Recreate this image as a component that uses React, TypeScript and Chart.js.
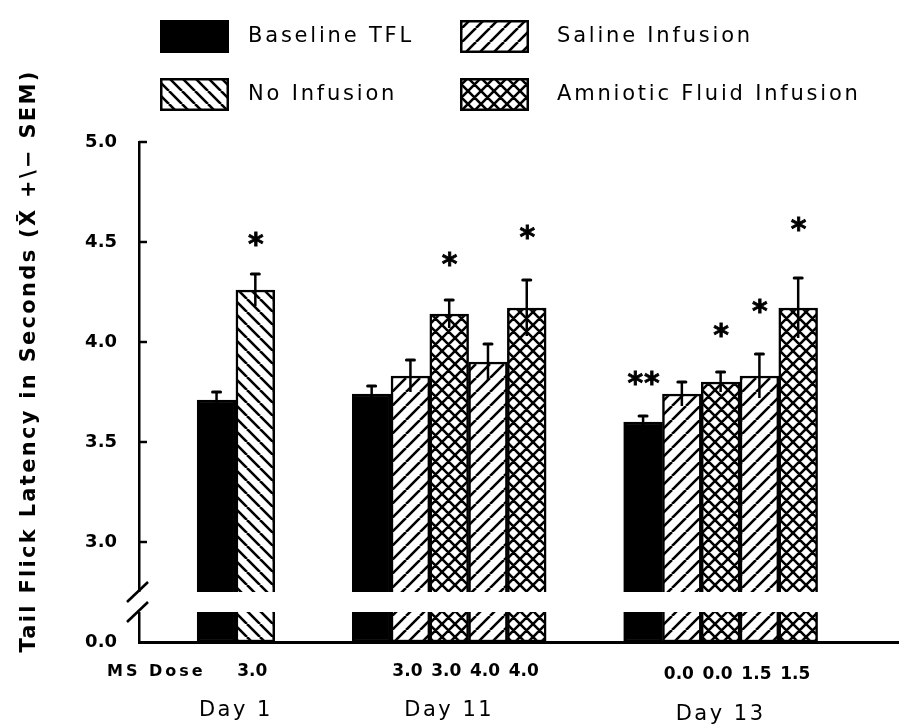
import React, { useEffect, useRef } from "react";
import { Chart, registerables, LinearScale } from "chart.js";

// ---------------- data ----------------
const SERIES_LABELS = ["Baseline TFL", "No Infusion", "Saline Infusion", "Amniotic Fluid Infusion"];

const GROUP_LABELS = ["Day 1", "Day 11", "Day 13"];
const GROUP_FIRST_SLOT = [2, 6, 13];
const GROUP_LAST_SLOT = [3, 10, 17];

const BASELINE_X = [2, 6, 13];
const BASELINE_Y = [3.71, 3.74, 3.6];
const BASELINE_SEM = [0.04, 0.04, 0.03];
const BASELINE_STAR_Y = [null, null, 3.82];
const BASELINE_STAR = ["", "", "**"];

const NOINF_X = [3];
const NOINF_Y = [4.26];
const NOINF_SEM = [0.08];
const NOINF_STAR_Y = [4.515];
const NOINF_STAR = ["*"];

const SALINE_X = [7, 9, 14, 16];
const SALINE_Y = [3.83, 3.9, 3.74, 3.83];
const SALINE_SEM = [0.08, 0.09, 0.06, 0.11];
const SALINE_STAR_Y = [null, null, null, 4.18];
const SALINE_STAR = ["", "", "", "*"];

const AF_X = [8, 10, 15, 17];
const AF_Y = [4.14, 4.17, 3.8, 4.17];
const AF_SEM = [0.07, 0.14, 0.05, 0.15];
const AF_STAR_Y = [4.415, 4.55, 4.06, 4.59];
const AF_STAR = ["*", "*", "*", "*"];

const DOSE_SLOTS = [3, 7, 8, 9, 10, 14, 15, 16, 17];
const DOSE_LABELS = ["3.0", "3.0", "3.0", "4.0", "4.0", "0.0", "0.0", "1.5", "1.5"];

const Y_TICKS = [0, 3.0, 3.5, 4.0, 4.5, 5.0];
const Y_MIN = 0;
const Y_MAX = 5;
const BREAK_LOW = 0.15;
const BREAK_HIGH = 2.75;
const X_MIN = 0;
const X_MAX = 19.6;

const Y_TITLE = "Tail Flick Latency in Seconds (X\u0304 +\\\u2212 SEM)";
const DOSE_TITLE = "MS Dose";

// ---------------- broken axis scale ----------------
const BREAK_GAP_PX = 20;

class BrokenLinearScale extends LinearScale {
  static id = "brokenLinear";
  _k() {
    const span = (this.max - BREAK_HIGH) + (BREAK_LOW - this.min);
    return (this.height - BREAK_GAP_PX) / span;
  }
  getPixelForValue(value: number) {
    if (value === null || value === undefined || isNaN(value)) return NaN;
    const k = this._k();
    const lowTop = this.bottom - (BREAK_LOW - this.min) * k;
    if (value >= BREAK_HIGH) return lowTop - BREAK_GAP_PX - (value - BREAK_HIGH) * k;
    if (value <= BREAK_LOW) return this.bottom - (value - this.min) * k;
    return lowTop - (BREAK_GAP_PX * (value - BREAK_LOW)) / (BREAK_HIGH - BREAK_LOW);
  }
  getValueForPixel(pixel: number) {
    const k = this._k();
    const lowTop = this.bottom - (BREAK_LOW - this.min) * k;
    const highBottom = lowTop - BREAK_GAP_PX;
    if (pixel <= highBottom) return BREAK_HIGH + (highBottom - pixel) / k;
    if (pixel >= lowTop) return this.min + (this.bottom - pixel) / k;
    return BREAK_LOW + ((lowTop - pixel) / BREAK_GAP_PX) * (BREAK_HIGH - BREAK_LOW);
  }
}

Chart.register(...registerables, BrokenLinearScale as any);

// ---------------- helpers ----------------
const FONT = '"DejaVu Sans", sans-serif';

function makePattern(kind: "fwd" | "back" | "cross"): CanvasPattern | string {
  const s = kind === "back" ? 13 : kind === "fwd" ? 14 : 13;
  const c = document.createElement("canvas");
  c.width = s;
  c.height = s;
  const g = c.getContext("2d");
  if (!g) return "#fff";
  g.fillStyle = "#fff";
  g.fillRect(0, 0, s, s);
  g.strokeStyle = "#000";
  g.lineWidth = 2.6;
  g.beginPath();
  for (const o of [-s, 0, s]) {
    if (kind === "fwd" || kind === "cross") {
      g.moveTo(o, s);
      g.lineTo(o + s, 0);
    }
    if (kind === "back" || kind === "cross") {
      g.moveTo(o, 0);
      g.lineTo(o + s, s);
    }
  }
  g.stroke();
  return g.createPattern(c, "repeat") as CanvasPattern;
}

function spacedText(ctx: CanvasRenderingContext2D, text: string, x: number, y: number, spacing: number, align: "left" | "center" | "right") {
  (ctx as any).letterSpacing = spacing + "px";
  const w = ctx.measureText(text).width;
  let sx = x;
  if (align === "center") sx = x - w / 2;
  else if (align === "right") sx = x - w;
  ctx.textAlign = "left";
  ctx.fillText(text, sx, y);
  (ctx as any).letterSpacing = "0px";
}

const decorPlugin = {
  id: "paperDecor",
  afterDatasetsDraw(chart: any) {
    const ctx: CanvasRenderingContext2D = chart.ctx;
    const ys = chart.scales.y;
    const area = chart.chartArea;
    ctx.save();
    ctx.strokeStyle = "#000";
    ctx.fillStyle = "#000";

    // error bars and significance marks
    chart.data.datasets.forEach((ds: any, di: number) => {
      const meta = chart.getDatasetMeta(di);
      meta.data.forEach((el: any, j: number) => {
        const v = ds.data[j].y;
        const e = ds.sem[j];
        const x = el.x;
        const yt = ys.getPixelForValue(v + e);
        const yb = ys.getPixelForValue(v - e);
        ctx.lineWidth = 2.5;
        ctx.lineCap = "butt";
        ctx.beginPath();
        ctx.moveTo(x, yb);
        ctx.lineTo(x, yt);
        ctx.stroke();
        ctx.lineWidth = 3;
        ctx.lineCap = "round";
        ctx.beginPath();
        ctx.moveTo(x - 4, yt);
        ctx.lineTo(x + 4, yt);
        ctx.stroke();
        const sy = ds.starY[j];
        const st = ds.star[j];
        if (st && sy !== null) {
          ctx.font = `bold 30px ${FONT}`;
          ctx.textBaseline = "alphabetic";
          (ctx as any).letterSpacing = "1px";
          const m = ctx.measureText(st);
          const off = (m.actualBoundingBoxAscent - m.actualBoundingBoxDescent) / 2;
          const py = ys.getPixelForValue(sy);
          ctx.textAlign = "left";
          ctx.lineWidth = 0.8;
          ctx.fillText(st, x - m.width / 2 + 1, py + off);
          ctx.strokeText(st, x - m.width / 2 + 1, py + off);
          (ctx as any).letterSpacing = "0px";
        }
      });
    });

    // axis break
    const yHi = ys.getPixelForValue(BREAK_HIGH);
    const yLo = ys.getPixelForValue(BREAK_LOW);
    ctx.fillStyle = "#fff";
    ctx.fillRect(area.left - 3, yHi, area.right - area.left + 3, yLo - yHi);
    ctx.strokeStyle = "#000";
    ctx.lineWidth = 2.6;
    ctx.lineCap = "butt";
    for (const cy of [yHi, yLo]) {
      ctx.beginPath();
      ctx.moveTo(area.left - 12, cy + 10);
      ctx.lineTo(area.left + 9, cy - 10);
      ctx.stroke();
    }

    // inward tick marks
    ctx.lineWidth = 2.5;
    ys.ticks.forEach((t: any) => {
      if (t.value <= BREAK_LOW) return;
      const py = ys.getPixelForValue(t.value);
      ctx.beginPath();
      ctx.moveTo(area.left, py);
      ctx.lineTo(area.left + 8, py);
      ctx.stroke();
    });
    ctx.restore();
  },
  afterDraw(chart: any) {
    const ctx: CanvasRenderingContext2D = chart.ctx;
    const xs = chart.scales.x;
    ctx.save();
    ctx.fillStyle = "#000";
    ctx.strokeStyle = "#000";
    ctx.textBaseline = "middle";

    // legend (2 x 2 grid)
    const ds = chart.data.datasets;
    const order = [0, 2, 1, 3];
    const colBox = [160, 460];
    const colText = [248, 557];
    const rowTop = [20, 78];
    order.forEach((di, k) => {
      const r = Math.floor(k / 2);
      const c = k % 2;
      const d = ds[di];
      const bx = colBox[c];
      const by = rowTop[r];
      ctx.fillStyle = d.backgroundColor;
      ctx.fillRect(bx, by, 69, 33);
      ctx.lineWidth = 2.5;
      ctx.strokeStyle = "#000";
      ctx.strokeRect(bx + 1.25, by + 1.25, 66.5, 30.5);
      ctx.fillStyle = "#000";
      ctx.font = `21px ${FONT}`;
      ctx.lineWidth = 0.5;
      spacedText(ctx, d.label, colText[c], by + 17, 2.8, "left");
    });

    // y-axis title
    ctx.save();
    ctx.translate(30, 361);
    ctx.rotate(-Math.PI / 2);
    ctx.font = `bold 21px ${FONT}`;
    spacedText(ctx, Y_TITLE, 0, 0, 2.3, "center");
    ctx.restore();

    // dose labels
    ctx.font = `bold 16px ${FONT}`;
    spacedText(ctx, DOSE_TITLE, 107, 672, 3, "left");
    ctx.font = `bold 17px ${FONT}`;
    DOSE_SLOTS.forEach((s, i) => {
      const px = xs.getPixelForValue(s) - 3;
      spacedText(ctx, DOSE_LABELS[i], px, s > 12 ? 675 : 672, 0, "center");
    });

    // group labels
    ctx.font = `21px ${FONT}`;
    GROUP_LABELS.forEach((g, i) => {
      const c = (GROUP_FIRST_SLOT[i] + GROUP_LAST_SLOT[i]) / 2;
      const px = xs.getPixelForValue(c);
      spacedText(ctx, g, px, i === 2 ? 715 : 711, 2.5, "center");
    });
    ctx.restore();
  },
};

export default function App() {
  const ref = useRef<HTMLCanvasElement | null>(null);
  useEffect(() => {
    document.body.style.margin = "0";
    const canvas = ref.current;
    if (!canvas) return;
    const pFwd = makePattern("fwd");
    const pBack = makePattern("back");
    const pCross = makePattern("cross");
    const mk = (xs: number[], ys: number[]) => xs.map((x, i) => ({ x, y: ys[i] }));
    const common = {
      borderColor: "#000",
      borderWidth: 2.5,
      borderSkipped: false,
      grouped: false,
      barPercentage: 1,
      categoryPercentage: 1,
    };
    const chart = new Chart(canvas, {
      type: "bar",
      data: {
        datasets: [
          { ...common, label: SERIES_LABELS[0], data: mk(BASELINE_X, BASELINE_Y), backgroundColor: "#000", sem: BASELINE_SEM, starY: BASELINE_STAR_Y, star: BASELINE_STAR } as any,
          { ...common, label: SERIES_LABELS[1], data: mk(NOINF_X, NOINF_Y), backgroundColor: pBack, sem: NOINF_SEM, starY: NOINF_STAR_Y, star: NOINF_STAR } as any,
          { ...common, label: SERIES_LABELS[2], data: mk(SALINE_X, SALINE_Y), backgroundColor: pFwd, sem: SALINE_SEM, starY: SALINE_STAR_Y, star: SALINE_STAR } as any,
          { ...common, label: SERIES_LABELS[3], data: mk(AF_X, AF_Y), backgroundColor: pCross, sem: AF_SEM, starY: AF_STAR_Y, star: AF_STAR } as any,
        ],
      },
      options: {
        responsive: false,
        animation: false,
        events: [],
        layout: { padding: { top: 142, left: 0, right: 0, bottom: 0 } },
        plugins: { legend: { display: false }, tooltip: { enabled: false } },
        scales: {
          x: {
            type: "linear",
            min: X_MIN,
            max: X_MAX,
            offset: false,
            grid: { display: false, drawTicks: false },
            border: { display: true, color: "#000", width: 3 },
            ticks: { display: false },
            afterBuildTicks: (scale: any) => {
              const all = Array.from(new Set([...BASELINE_X, ...NOINF_X, ...SALINE_X, ...AF_X])).sort((a, b) => a - b);
              scale.ticks = all.map((v) => ({ value: v }));
            },
            afterFit: (scale: any) => {
              scale.height = 84;
            },
          },
          y: {
            type: "brokenLinear" as any,
            min: Y_MIN,
            max: Y_MAX,
            grid: { display: false, drawTicks: false },
            border: { display: true, color: "#000", width: 2.5 },
            ticks: {
              color: "#000",
              padding: 22,
              font: { family: FONT, size: 18, weight: "bold" },
              callback: (v: any) => Number(v).toFixed(1),
            },
            afterBuildTicks: (scale: any) => {
              scale.ticks = Y_TICKS.map((v) => ({ value: v }));
            },
            afterFit: (scale: any) => {
              scale.width = 139;
            },
          } as any,
        },
      },
      plugins: [decorPlugin],
    });
    return () => chart.destroy();
  }, []);
  return (
    <div style={{ position: "absolute", left: 0, top: 0, width: 899, height: 726, background: "#fff" }}>
      <canvas ref={ref} width={899} height={726} />
    </div>
  );
}
